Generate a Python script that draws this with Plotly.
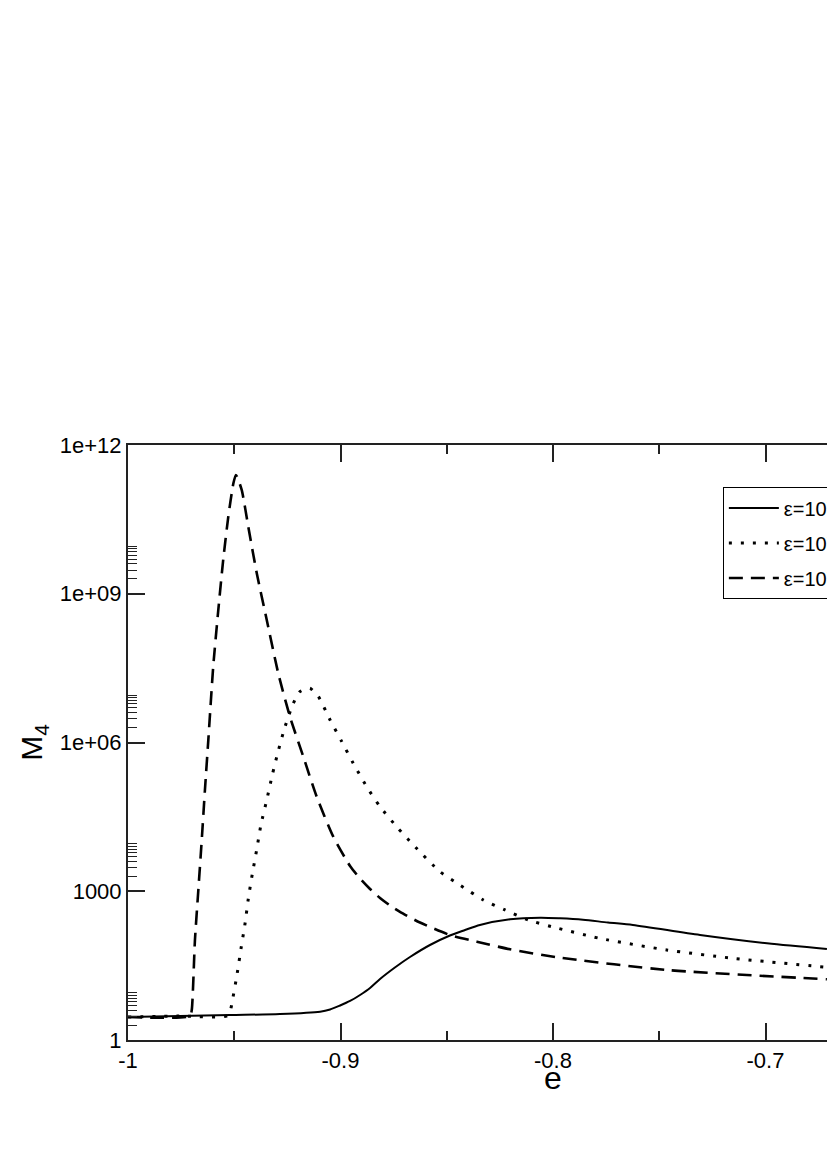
import plotly.graph_objects as go

FONT = "Liberation Sans, Arial, sans-serif"

# e values / M4 values
e_solid = [-1.000, -0.9755, -0.952, -0.9285, -0.9096, -0.9049, -0.9002, -0.8955,
           -0.8908, -0.8861, -0.8814, -0.8744, -0.8673, -0.8579, -0.8485, -0.8414,
           -0.8344, -0.8202, -0.8061, -0.7967, -0.7859, -0.7741, -0.7624, -0.7308,
           -0.6993, -0.6711]
m_solid = [2.91, 3.05, 3.19, 3.34, 3.72, 4.12, 4.96, 6.12,
           8.09, 11.2, 17.0, 29.0, 47.2, 82.4, 128, 165,
           209, 272, 293, 285, 267, 234, 209, 131,
           89, 68.5]

e_dot = [-1.000, -0.9755, -0.9529, -0.9507, -0.9486, -0.9468, -0.9449, -0.9434,
         -0.9415, -0.9394, -0.9374, -0.9347, -0.9321, -0.9293, -0.9261, -0.9222,
         -0.9191, -0.9144, -0.9104, -0.9049, -0.8994, -0.8940, -0.8877, -0.8814,
         -0.8736, -0.8657, -0.8532, -0.8438, -0.8328, -0.8226, -0.8116, -0.8006,
         -0.7779, -0.7465, -0.7152, -0.6712]
m_dot = [2.91, 3.05, 3.15, 6.93, 22.2, 70.7, 226, 698,
         2229, 7020, 2.24e4, 6.93e4, 2.21e5, 6.74e5, 2.08e6, 6.18e6,
         1.06e7, 1.24e7, 8.4e6, 2.85e6, 1.04e6, 3.81e5, 1.29e5, 5.08e4,
         2.01e4, 8570, 2483, 1337, 666, 419, 263, 193,
         112, 65.4, 44.4, 29.3]

e_dash = [-1.000, -0.9708, -0.9700, -0.9685, -0.9669, -0.9653, -0.9638, -0.9622,
          -0.9599, -0.9575, -0.9552, -0.9528, -0.9504, -0.9492, -0.9465, -0.9434,
          -0.9394, -0.9347, -0.9293, -0.9238, -0.9175, -0.9112, -0.9034, -0.8955,
          -0.8908, -0.8861, -0.8814, -0.8767, -0.8720, -0.8626, -0.8485, -0.8358,
          -0.8202, -0.7981, -0.7464, -0.6711]
m_dash = [2.91, 3.05, 4.03, 104, 1060, 1.08e4, 1.10e5, 1.12e6,
          3.38e7, 4.71e8, 4.80e9, 3.59e10, 1.69e11, 2.49e11, 1.24e11, 2.26e10,
          2.59e9, 2.96e8, 2.49e7, 3.32e6, 5.18e5, 8.07e4, 1.26e4, 3230,
          1808, 1111, 731, 516, 382, 234, 131, 96.1,
          67.5, 46.6, 25.8, 16.8]

legend_names = ["ε=10<sup>-2</sup>", "ε=10<sup>-4</sup>", "ε=10<sup>-6</sup>"]

x_ticks = [-1, -0.9, -0.8, -0.7, -0.6]
x_ticktext = ["-1", "-0.9", "-0.8", "-0.7", "-0.6"]
x_minor = [-0.95, -0.85, -0.75, -0.65]
y_ticks = [1, 1e3, 1e6, 1e9, 1e12]
y_ticktext = ["1", "1000", "1e+06", "1e+09", "1e+12"]
y_minor = [k * 10 ** p for p in (0, 3, 6, 9) for k in range(2, 10)]

fig = go.Figure()
fig.add_trace(go.Scatter(x=e_solid, y=m_solid, mode="lines", name=legend_names[0],
                         legendgroup="a",
                         line=dict(color="black", width=2, shape="spline", smoothing=0.8)))
fig.add_trace(go.Scatter(x=e_dot, y=m_dot, mode="lines", name=legend_names[1],
                         legendgroup="b",
                         line=dict(color="black", width=3, dash="3px,9px",
                                   shape="spline", smoothing=0.6)))
fig.add_trace(go.Scatter(x=e_dash, y=m_dash, mode="lines", name=legend_names[2],
                         legendgroup="c",
                         line=dict(color="black", width=2.6, dash="14px,8px",
                                   shape="spline", smoothing=0.6)))

axis_common = dict(
    showgrid=False, zeroline=False,
    showline=True, linecolor="#222", linewidth=2, mirror="ticks",
    ticks="inside", ticklen=17, tickwidth=1.5, tickcolor="#222",
    tickfont=dict(family=FONT, size=22, color="black"),
)

fig.update_layout(
    width=1018, height=1168,
    margin=dict(l=128, r=40, t=445, b=128),
    paper_bgcolor="white", plot_bgcolor="white",
    font=dict(family=FONT, color="black"),
    showlegend=True,
    legend=dict(
        x=0.6996, y=0.929, xanchor="left", yanchor="top",
        bordercolor="black", borderwidth=1.2, bgcolor="white",
        font=dict(family=FONT, size=20, color="black"),
        tracegroupgap=6, itemwidth=50,
    ),
    xaxis=dict(
        axis_common,
        range=[-1, -0.6],
        tickmode="array", tickvals=x_ticks, ticktext=x_ticktext,
        minor=dict(tickmode="array", tickvals=x_minor, ticks="inside",
                   ticklen=9, tickwidth=1.5, tickcolor="#222"),
    ),
    yaxis=dict(
        axis_common,
        type="log", range=[0, 12],
        tickmode="array", tickvals=y_ticks, ticktext=y_ticktext,
        minor=dict(tickmode="array", tickvals=y_minor, ticks="inside",
                   ticklen=9, tickwidth=1.2, tickcolor="#222"),
        title=dict(text="M<sub>4</sub>", font=dict(family=FONT, size=30), standoff=8),
    ),
    annotations=[dict(
        text="e", x=-0.8, xref="x", y=0, yref="paper",
        xanchor="center", yanchor="top", yshift=-18, showarrow=False,
        font=dict(family=FONT, size=32, color="black"),
    )],
)

fig.write_html("out.html", config={"displayModeBar": False},
               post_script="document.body.style.margin='0';document.body.style.overflow='hidden';")
